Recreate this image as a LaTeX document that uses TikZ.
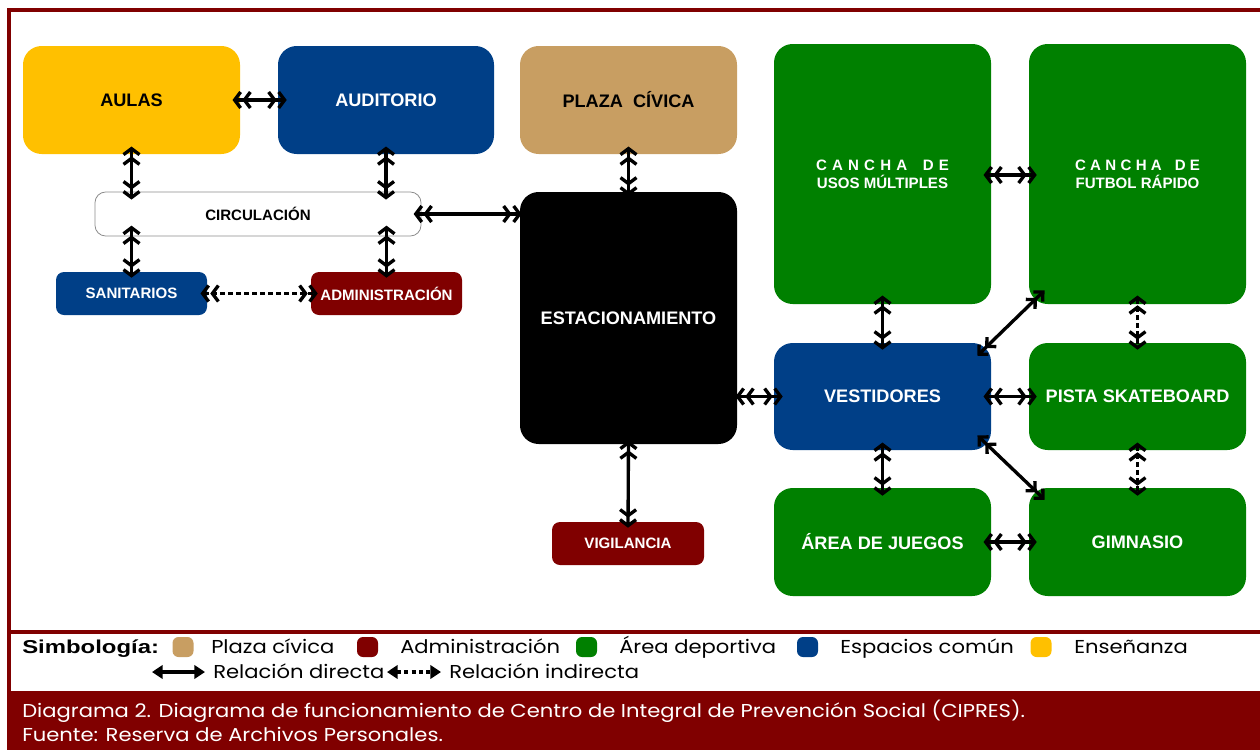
\documentclass[tikz,border=0pt]{standalone}
\usepackage{fontspec}
\setmainfont{Poppins}[FakeStretch=1.13]
\newfontfamily\arialf{Liberation Sans}
\newfontfamily\simbf{Liberation Sans}[FakeStretch=1.28]
\usetikzlibrary{arrows.meta}
\definecolor{cyellow}{RGB}{255,192,0}
\definecolor{cblue}{RGB}{0,63,135}
\definecolor{ctan}{RGB}{200,158,98}
\definecolor{cgreen}{RGB}{0,128,0}
\definecolor{cred}{RGB}{128,0,0}
\tikzset{
  bx/.style n args={2}{minimum width=#1*0.75pt, minimum height=#2*0.75pt, inner sep=0pt, rounded corners=14pt, align=center},
  bigf/.style={font=\arialf\bfseries\fontsize{13.6}{16}\selectfont},
  smallf/.style={font=\arialf\bfseries\fontsize{11.3}{13.5}\selectfont},
  smallbx/.style={rounded corners=6pt},
  dirarr/.style={line width=2.5pt, arrows={Straight Barb[length=4.5pt,width=12pt,sep=0.2pt]Straight Barb[length=4.5pt,width=12pt]-Straight Barb[length=4.5pt,width=12pt,sep=0.2pt]Straight Barb[length=4.5pt,width=12pt]}},
  diagarr/.style={line width=2.5pt, arrows={Straight Barb[length=5pt,width=10pt,sep=0.2pt]Straight Barb[length=5pt,width=10pt]-Straight Barb[length=5pt,width=10pt,sep=0.2pt]Straight Barb[length=5pt,width=10pt]}},
  indarr/.style={dirarr, dash pattern=on 3.5pt off 2.5pt},
  swatch/.style={minimum width=15.75pt, minimum height=15pt, inner sep=0pt, rounded corners=4.5pt},
  legtext/.style={anchor=base west, inner sep=0pt, font=\fontsize{14}{16}\selectfont},
  legarr/.style={line width=2.4pt, arrows={Triangle[length=8pt,width=10pt]-Triangle[length=8pt,width=10pt]}},
}
\newcommand{\spacedcancha}{\makebox[99.75pt][s]{C\hfill A\hfill N\hfill C\hfill H\hfill A\hfill\hfill\hfill D\hfill E}}
\newcommand{\spacedcanchab}{\makebox[93.75pt][s]{C\hfill A\hfill N\hfill C\hfill H\hfill A\hfill\hfill\hfill D\hfill E}}
\begin{document}
\begin{tikzpicture}[x=0.75pt,y=-0.75pt]
\useasboundingbox (0,0) rectangle (1260,750);
% frame
\fill[cred] (7,8) rectangle (1260,12);
\fill[cred] (7,8) rectangle (11,691);
\fill[cred] (7,630) rectangle (1260,634);
\fill[cred] (7,691) rectangle (1260,750);

% nodes
\node[bx={217}{108}, fill=cyellow, bigf, text=black] (aulas) at (131.5,100) {AULAS};
\node[bx={216}{108}, fill=cblue, bigf, text=white] (audit) at (386,100) {AUDITORIO};
\node[bx={217}{108}, fill=ctan, bigf, text=black] (plaza) at (628.5,100) {PLAZA\ \ CÍVICA};
\node[bx={217}{260}, fill=cgreen, smallf, text=white] (usos) at (882.5,174) {\spacedcancha\\USOS MÚLTIPLES};
\node[bx={217}{260}, fill=cgreen, smallf, text=white] (futbol) at (1137.5,174) {\spacedcanchab\\FUTBOL RÁPIDO};
\node[bx={326}{44}, smallbx, rounded corners=8pt, fill=white, draw=black!45, line width=0.6pt, smallf, text=black] (circ) at (258,214) {CIRCULACIÓN};
\node[bx={151}{43}, smallbx, fill=cblue, smallf, text=white] (sanit) at (131.5,293.5) {SANITARIOS};
\node[bx={151}{43}, smallbx, fill=cred, smallf, text=white] (admin) at (386.5,293.5) {ADMINISTRACIÓN};
\node[bx={217}{252}, fill=black, bigf, text=white] (est) at (628.5,318) {ESTACIONAMIENTO};
\node[bx={152}{43}, smallbx, fill=cred, smallf, text=white] (vig) at (628,543.5) {VIGILANCIA};
\node[bx={217}{107}, fill=cblue, bigf, text=white] (vest) at (882.5,396.5) {VESTIDORES};
\node[bx={217}{107}, fill=cgreen, bigf, text=white] (pista) at (1137.5,396.5) {PISTA SKATEBOARD};
\node[bx={217}{108}, fill=cgreen, bigf, text=white] (area) at (882.5,542) {ÁREA DE JUEGOS};
\node[bx={217}{108}, fill=cgreen, bigf, text=white] (gim) at (1137.5,542) {GIMNASIO};

% connectors
\draw[dirarr] ([shift={(-8,0)}]aulas.east) -- ([shift={(9,0)}]audit.west);
\draw[dirarr] ([shift={(0,-8)}]aulas.south) -- ([shift={(0,8)}]aulas.south |- circ.north);
\draw[dirarr] ([shift={(0,-8)}]audit.south) -- ([shift={(0,8)}]audit.south |- circ.north);
\draw[dirarr] ([shift={(0,-11)}]sanit.north |- circ.south) -- ([shift={(0,6)}]sanit.north);
\draw[dirarr] ([shift={(0,-11)}]admin.north |- circ.south) -- ([shift={(0,6)}]admin.north);
\draw[indarr] ([shift={(-7,0)}]sanit.east) -- ([shift={(7,0)}]admin.west);
\draw[dirarr] ([shift={(-8,0)}]circ.east) -- ([shift={(2,0)}]circ.east -| est.west);
\draw[dirarr] ([shift={(0,-8)}]plaza.south) -- ([shift={(0,4)}]est.north);
\draw[dirarr] ([shift={(0,-4)}]est.south) -- ([shift={(0,6)}]vig.north);
\draw[dirarr] ([shift={(-2,0)}]est.east |- vest.west) -- ([shift={(9,0)}]vest.west);
\draw[dirarr] ([shift={(-8,1)}]usos.east) -- ([shift={(8,1)}]futbol.west);
\draw[dirarr] ([shift={(0,-9)}]usos.south) -- ([shift={(0,7)}]vest.north);
\draw[indarr] ([shift={(0,-9)}]futbol.south) -- ([shift={(0,7)}]pista.north);
\draw[dirarr] ([shift={(-8,0)}]vest.east) -- ([shift={(8,0)}]pista.west);
\draw[dirarr] ([shift={(0,-8)}]vest.south) -- ([shift={(0,8)}]area.north);
\draw[indarr] ([shift={(0,-8)}]pista.south) -- ([shift={(0,8)}]gim.north);
\draw[dirarr] ([shift={(-8,0)}]area.east) -- ([shift={(8,0)}]gim.west);
\draw[diagarr] ([shift={(16,-14)}]futbol.south west) -- ([shift={(-14,13)}]vest.north east);
\draw[diagarr] ([shift={(-14,-15)}]vest.south east) -- ([shift={(16,12)}]gim.north west);

% legend
\node[anchor=base west, inner sep=0pt, font=\simbf\bfseries\fontsize{14}{16}\selectfont] (simb) at (22,653) {Simbología:};
\node[swatch, fill=ctan] (sw1) at (183,647) {};
\node[legtext] (l1) at (211,653) {Plaza cívica};
\node[swatch, fill=cred] (sw2) at (367.5,647) {};
\node[legtext] (l2) at (400,653) {Administración};
\node[swatch, fill=cgreen] (sw3) at (586.5,647) {};
\node[legtext] (l3) at (619,653) {Área deportiva};
\node[swatch, fill=cblue] (sw4) at (807.5,647) {};
\node[legtext] (l4) at (840,653) {Espacios común};
\node[swatch, fill=cyellow] (sw5) at (1041,647) {};
\node[legtext] (l5) at (1074,653) {Enseñanza};
\coordinate (a1) at (152,672);
\coordinate (a2) at (205,672);
\draw[legarr] (a1) -- (a2);
\node[legtext] (l6) at (213,678) {Relación directa};
\coordinate (b1) at (387,672);
\coordinate (b2) at (441,672);
\draw[legarr, dash pattern=on 3pt off 2.5pt] (b1) -- (b2);
\node[legtext] (l7) at (449,678) {Relación indirecta};

% caption
\node[legtext, text=white] (cap1) at (22,717) {Diagrama 2. Diagrama de funcionamiento de Centro de Integral de Prevención Social (CIPRES).};
\node[legtext, text=white] (cap2) at (22,741) {Fuente: Reserva de Archivos Personales.};
\end{tikzpicture}
\end{document}
